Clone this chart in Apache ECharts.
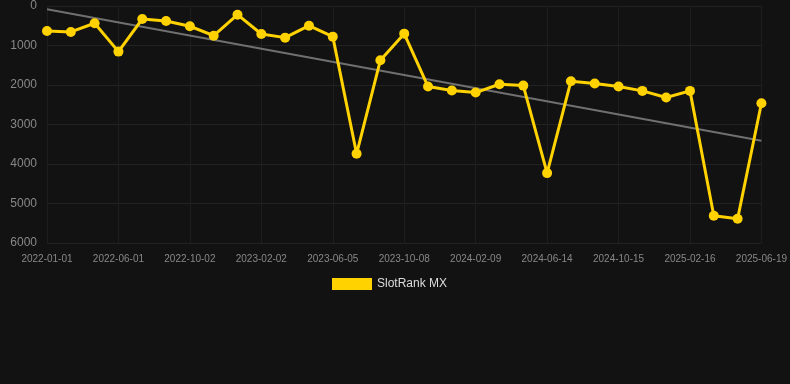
<!DOCTYPE html>
<html>
<head>
<meta charset="utf-8">
<script src="https://cdn.jsdelivr.net/npm/echarts@6/dist/echarts.min.js"></script>
<style>
  html, body { margin: 0; padding: 0; background: #121212; }
  #chart { width: 790px; height: 384px; }
</style>
</head>
<body>
<div id="chart"></div>
<script>
// dates of each rank reading
var dates = [
    '2022-01-01', '2022-02-20', '2022-04-11', '2022-06-01', '2022-07-12', '2022-08-22',
    '2022-10-02', '2022-11-12', '2022-12-23', '2023-02-02', '2023-03-15', '2023-04-25',
    '2023-06-05', '2023-07-17', '2023-08-27', '2023-10-08', '2023-11-18', '2023-12-29',
    '2024-02-09', '2024-03-21', '2024-05-03', '2024-06-14', '2024-07-25', '2024-09-04',
    '2024-10-15', '2024-11-25', '2025-01-05', '2025-02-16', '2025-03-29', '2025-05-09',
    '2025-06-19'
];

// rank values (lower is better, axis inverted)
var rankMX = [
    632, 657, 437, 1155, 329, 379, 513, 751, 220, 708, 801, 498,
    776, 3742, 1373, 700, 2040, 2141, 2191, 1981, 2015, 4231,
    1905, 1964, 2040, 2149, 2318, 2149, 5310, 5386, 2461
];

// trend line, start and end values
var trendEnds = [80, 3410];

var yTicks = [0, 6000, 1000];

var chart = echarts.init(document.getElementById('chart'));

var trendData = dates.map(function (d, i) {
    if (i === 0) return trendEnds[0];
    if (i === dates.length - 1) return trendEnds[1];
    return null;
});

var option = {
    backgroundColor: '#121212',
    animation: false,
    grid: {
        left: 47,
        right: 28,
        top: 6,
        bottom: 141
    },
    legend: {
        data: ['SlotRank MX'],
        top: 278,
        left: 332,
        itemWidth: 40,
        itemHeight: 12,
        padding: 0,
        icon: 'rect',
        textStyle: {
            color: '#dddddd',
            fontSize: 12,
            fontFamily: 'Liberation Sans, Arial, sans-serif'
        }
    },
    xAxis: {
        type: 'category',
        data: dates,
        boundaryGap: false,
        axisLine: { show: false },
        axisTick: { show: false },
        axisLabel: {
            interval: 2,
            color: '#888888',
            fontSize: 10,
            margin: 11,
            fontFamily: 'Liberation Sans, Arial, sans-serif'
        },
        splitLine: {
            show: true,
            interval: 2,
            lineStyle: { color: '#1e1e1e', width: 1 }
        }
    },
    yAxis: {
        type: 'value',
        inverse: true,
        min: yTicks[0],
        max: yTicks[1],
        interval: yTicks[2],
        axisLine: { show: false },
        axisTick: { show: false },
        axisLabel: {
            color: '#888888',
            fontSize: 12,
            margin: 10,
            formatter: function (v) { return String(v); },
            fontFamily: 'Liberation Sans, Arial, sans-serif'
        },
        splitLine: {
            lineStyle: { color: '#222222', width: 1 }
        }
    },
    series: [
        {
            name: 'Trend',
            type: 'line',
            data: trendData,
            connectNulls: true,
            symbol: 'none',
            lineStyle: { color: '#707070', width: 2 },
            z: 1
        },
        {
            name: 'SlotRank MX',
            type: 'line',
            data: rankMX,
            symbol: 'circle',
            symbolSize: 10,
            itemStyle: { color: '#ffd200' },
            lineStyle: { color: '#ffd200', width: 3 },
            z: 2
        }
    ]
};

chart.setOption(option);
</script>
</body>
</html>
